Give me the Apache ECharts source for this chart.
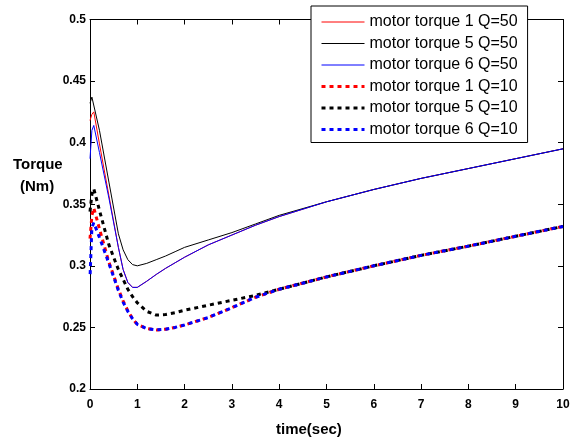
<!DOCTYPE html>
<html>
<head>
<meta charset="utf-8">
<script src="https://cdn.jsdelivr.net/npm/echarts@6/dist/echarts.min.js"></script>
<style>html,body{margin:0;padding:0;background:#fff}#c{width:576px;height:443px}</style>
</head>
<body>
<div id="c"></div>
<script>
// time (sec)
var timeSec = [0, 0.04, 0.08, 0.2, 0.4, 0.6, 0.7, 0.8, 0.9, 1.0, 1.2, 1.4, 1.6, 1.8, 2.0, 2.5, 3.0, 3.5, 4, 5, 6, 7, 8, 9, 10];
// Q=50 series
var torque1Q50 = [0.418, 0.423, 0.425, 0.399, 0.357, 0.315, 0.297, 0.2865, 0.2825, 0.2825, 0.2875, 0.293, 0.298, 0.3025, 0.307, 0.317, 0.325, 0.333, 0.340, 0.352, 0.362, 0.371, 0.379, 0.387, 0.395];
var torque5Q50 = [0.432, 0.437, 0.438, 0.410, 0.368, 0.326, 0.313, 0.305, 0.301, 0.300, 0.302, 0.305, 0.308, 0.3115, 0.315, 0.321, 0.327, 0.334, 0.341, 0.352, 0.362, 0.371, 0.379, 0.387, 0.395];
var torque6Q50 = [0.387, 0.410, 0.414, 0.392, 0.355, 0.315, 0.297, 0.2865, 0.2825, 0.2825, 0.2875, 0.293, 0.298, 0.3025, 0.307, 0.317, 0.325, 0.333, 0.340, 0.352, 0.362, 0.371, 0.379, 0.387, 0.395];
// Q=10 series
var torque1Q10 = [0.322, 0.341, 0.347, 0.330, 0.303, 0.281, 0.2715, 0.2635, 0.257, 0.2525, 0.249, 0.248, 0.2485, 0.250, 0.252, 0.258, 0.266, 0.2745, 0.281, 0.291, 0.300, 0.3085, 0.316, 0.324, 0.332];
var torque5Q10 = [0.344, 0.358, 0.3626, 0.345, 0.317, 0.297, 0.289, 0.281, 0.275, 0.270, 0.263, 0.260, 0.2605, 0.262, 0.264, 0.268, 0.272, 0.276, 0.281, 0.291, 0.300, 0.3085, 0.316, 0.324, 0.332];
var torque6Q10 = [0.290, 0.331, 0.335, 0.323, 0.302, 0.280, 0.2705, 0.263, 0.257, 0.2525, 0.249, 0.248, 0.2485, 0.250, 0.252, 0.258, 0.266, 0.2745, 0.281, 0.291, 0.300, 0.3085, 0.316, 0.324, 0.332];
var seriesNames = ['motor torque 1 Q=50', 'motor torque 5 Q=50', 'motor torque 6 Q=50', 'motor torque 1 Q=10', 'motor torque 5 Q=10', 'motor torque 6 Q=10'];
var xTicks = [0, 1, 2, 3, 4, 5, 6, 7, 8, 9, 10];
var yTicks = [0.2, 0.25, 0.3, 0.35, 0.4, 0.45, 0.5];

function pairs(vals) { return timeSec.map(function (t, i) { return [t, vals[i]]; }); }

var allVals = [torque1Q50, torque5Q50, torque6Q50, torque1Q10, torque5Q10, torque6Q10];
var colors = ['#ff0000', '#000000', '#0000ff', '#ff0000', '#000000', '#0000ff'];
var series = allVals.map(function (v, i) {
  var dotted = i >= 3;
  return {
    name: seriesNames[i], type: 'line', data: pairs(v), symbol: 'none',
    smooth: false, xAxisIndex: 0, yAxisIndex: 0,
    color: colors[i],
    lineStyle: dotted ? { color: colors[i], width: 3, type: [4, 4], dashOffset: (i === 5 ? 4 : 0) }
                      : { color: colors[i], width: 1 },
    z: 2 + i
  };
});
var legendData = seriesNames.map(function (n, i) {
  return i < 3 ? { name: n, lineStyle: { width: 1 } }
               : { name: n, lineStyle: { width: 3, type: [4, 4], dashOffset: 0 } };
});

var chart = echarts.init(document.getElementById('c'));
var tickLbl = { color: '#000', fontFamily: 'Liberation Sans', fontWeight: 'bold', fontSize: 12 };
chart.setOption({
  animation: false,
  grid: { left: 90, top: 19.5, right: 13, bottom: 54, show: false },
  xAxis: [
    { type: 'value', min: 0, max: 10, interval: 1, position: 'bottom',
      axisLine: { onZero: false, lineStyle: { color: '#000', width: 1 } },
      axisTick: { inside: true, length: 5, lineStyle: { color: '#000' } },
      axisLabel: Object.assign({ margin: 10, formatter: function (v) { return xTicks.indexOf(v) >= 0 ? String(v) : ''; } }, tickLbl),
      splitLine: { show: false } },
    { type: 'value', min: 0, max: 10, interval: 1, position: 'top',
      axisLine: { onZero: false, lineStyle: { color: '#000', width: 1 } },
      axisTick: { inside: true, length: 5, lineStyle: { color: '#000' } },
      axisLabel: { show: false }, splitLine: { show: false } }
  ],
  yAxis: [
    { type: 'value', min: 0.2, max: 0.5, interval: 0.05, position: 'left',
      axisLine: { onZero: false, lineStyle: { color: '#000', width: 1 } },
      axisTick: { inside: true, length: 5, lineStyle: { color: '#000' } },
      axisLabel: Object.assign({ margin: 4, formatter: function (v) { return String(parseFloat(v.toFixed(2))); } }, tickLbl),
      splitLine: { show: false } },
    { type: 'value', min: 0.2, max: 0.5, interval: 0.05, position: 'right',
      axisLine: { onZero: false, lineStyle: { color: '#000', width: 1 } },
      axisTick: { inside: true, length: 5, lineStyle: { color: '#000' } },
      axisLabel: { show: false }, splitLine: { show: false } }
  ],
  legend: {
    orient: 'vertical', left: 311, top: 6, padding: [8, 10, 5, 9],
    backgroundColor: '#fff', borderColor: '#000', borderWidth: 1, borderRadius: 0,
    itemWidth: 43, itemHeight: 15, itemGap: 5.5,
    itemStyle: { opacity: 0 },
    textStyle: { fontFamily: 'Liberation Sans', fontSize: 16, color: '#000', padding: [0, 0, 0, 0] },
    data: legendData, z: 20
  },
  graphic: [
    { type: 'text', left: 13, top: 157, style: { text: 'Torque', font: 'bold 15px "Liberation Sans"', fill: '#000' } },
    { type: 'text', left: 20, top: 179, style: { text: '(Nm)', font: 'bold 15px "Liberation Sans"', fill: '#000' } },
    { type: 'text', left: 276, top: 422, style: { text: 'time(sec)', font: 'bold 15px "Liberation Sans"', fill: '#000' } }
  ],
  series: series
});
</script>
</body>
</html>
